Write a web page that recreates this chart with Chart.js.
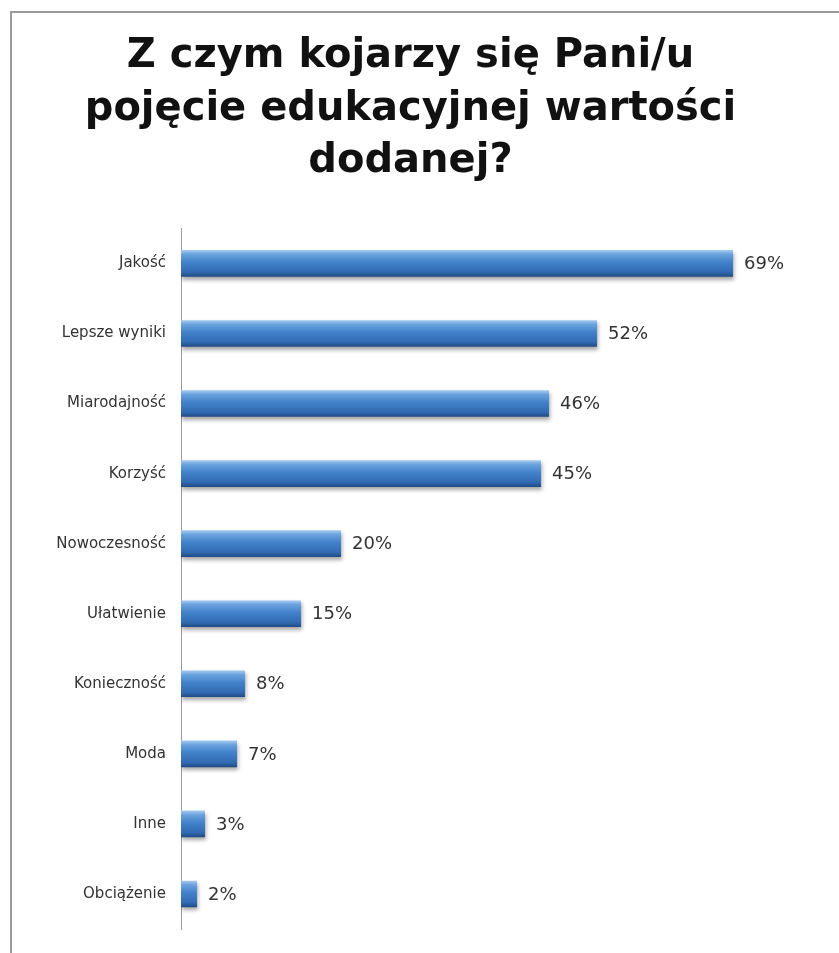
<!DOCTYPE html>
<html>
<head>
<meta charset="utf-8">
<script src="https://cdn.jsdelivr.net/npm/chart.js@4"></script>
<style>
  html, body { margin: 0; padding: 0; background: #fff; overflow: hidden; }
  #frame {
    position: absolute; left: 10px; top: 11px;
    width: 900px; height: 1000px;
    border: 2px solid #9a9a9a;
  }
  #wrap { position: absolute; left: 0; top: 0; width: 839px; height: 953px; }
</style>
</head>
<body>
<div id="frame"></div>
<div id="wrap"><canvas id="chart"></canvas></div>
<script>
// Data
const titleLines = ['Z czym kojarzy się Pani/u', 'pojęcie edukacyjnej wartości', 'dodanej?'];
const categories = ['Jakość', 'Lepsze wyniki', 'Miarodajność', 'Korzyść', 'Nowoczesność',
                    'Ułatwienie', 'Konieczność', 'Moda', 'Inne', 'Obciążenie'];
const values = [69, 52, 46, 45, 20, 15, 8, 7, 3, 2];

// Gradient + shadow for the 3D-looking bars
const barStyle = {
    id: 'barStyle',
    beforeDatasetsDraw(chart) {
        const ctx = chart.ctx;
        chart.getDatasetMeta(0).data.forEach(bar => {
            const top = bar.y - bar.height / 2;
            const g = ctx.createLinearGradient(0, top, 0, top + bar.height);
            g.addColorStop(0, '#a6cbf0');
            g.addColorStop(0.16, '#6aa2de');
            g.addColorStop(0.45, '#4282ca');
            g.addColorStop(0.82, '#316bb3');
            g.addColorStop(1, '#1f4a83');
            bar.options.backgroundColor = g;
        });
        ctx.save();
        ctx.shadowColor = 'rgba(0,0,0,0.35)';
        ctx.shadowOffsetY = 3;
        ctx.shadowOffsetX = 1;
        ctx.shadowBlur = 4;
    },
    afterDatasetsDraw(chart) {
        const ctx = chart.ctx;
        ctx.restore();
        // value labels
        ctx.save();
        ctx.font = '18px "DejaVu Sans"';
        ctx.fillStyle = '#333';
        ctx.textBaseline = 'middle';
        ctx.textAlign = 'left';
        chart.getDatasetMeta(0).data.forEach((bar, i) => {
            ctx.fillText(values[i] + '%', bar.x + 11, bar.y + 1);
        });
        ctx.restore();
    }
};

new Chart(document.getElementById('chart'), {
    type: 'bar',
    data: {
        labels: categories,
        datasets: [{
            data: values,
            // scriptable so every bar gets its own options object
            backgroundColor: () => '#4282ca',
            borderWidth: 0,
            barPercentage: 0.38,
            categoryPercentage: 1
        }]
    },
    options: {
        indexAxis: 'y',
        responsive: true,
        maintainAspectRatio: false,
        animation: false,
        layout: { padding: { left: 0, right: 18, top: 0, bottom: 11 } },
        plugins: {
            legend: { display: false },
            tooltip: { enabled: false },
            title: {
                display: true,
                text: titleLines,
                color: '#111',
                font: { family: 'DejaVu Sans', size: 40, weight: 'bold', lineHeight: 1.32 },
                padding: { top: 30, bottom: 40 }
            }
        },
        scales: {
            x: {
                display: false,
                min: 0,
                max: 80
            },
            y: {
                grid: { display: false, drawTicks: false },
                border: { display: true, color: '#9a9a9a', width: 1 },
                ticks: {
                    color: '#333',
                    padding: 15,
                    font: { family: 'DejaVu Sans', size: 15 }
                },
                afterFit(scale) { scale.width = 181; }
            }
        }
    },
    plugins: [barStyle]
});
</script>
</body>
</html>
